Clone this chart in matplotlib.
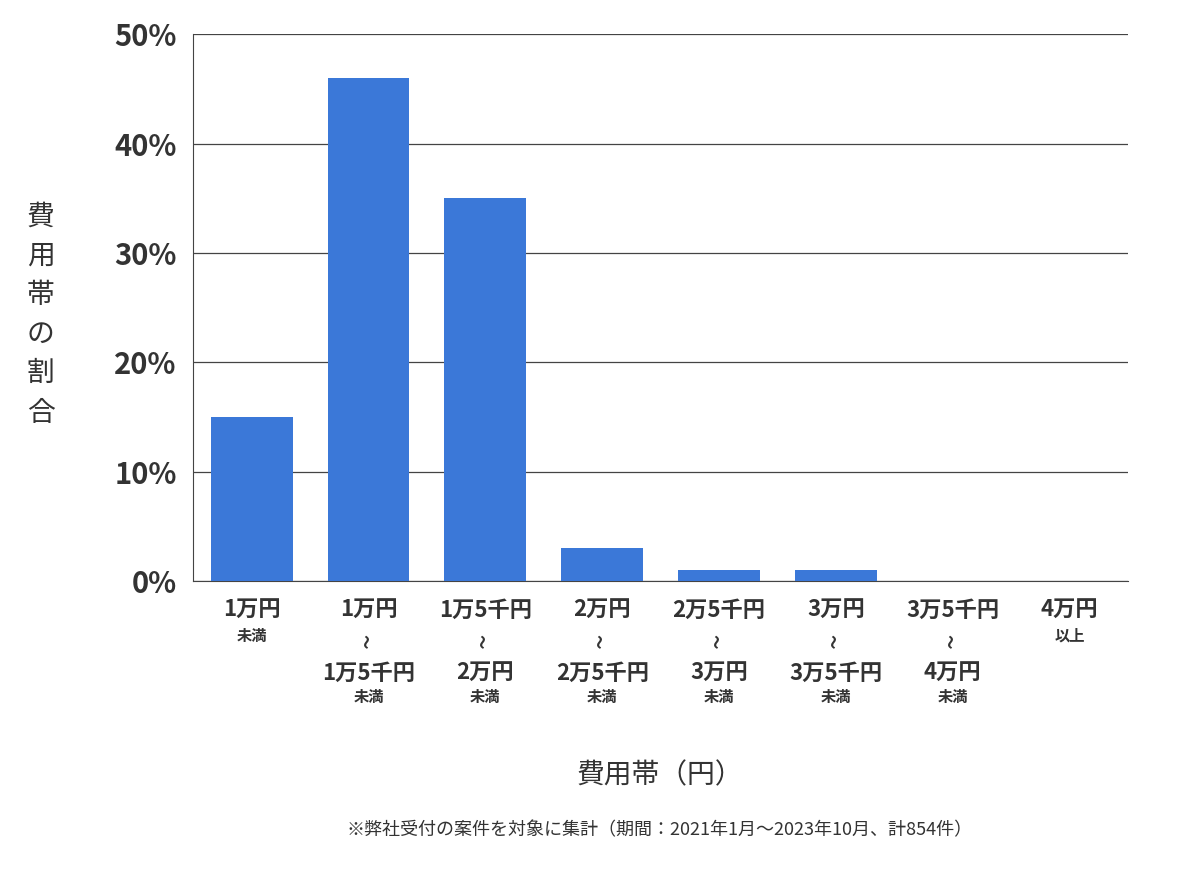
import matplotlib

matplotlib.use("Agg")
import matplotlib.pyplot as plt  # noqa: E402
from matplotlib.transforms import blended_transform_factory  # noqa: E402

plt.rcParams["font.family"] = ["Noto Sans CJK JP", "DejaVu Sans"]

# data
tops = ["1万円", "1万円", "1万5千円", "2万円", "2万5千円", "3万円", "3万5千円", "4万円"]
bottoms = [None, "1万5千円", "2万円", "2万5千円", "3万円", "3万5千円", "4万円", None]
suffixes = ["未満", "未満", "未満", "未満", "未満", "未満", "未満", "以上"]
shares = [15, 46, 35, 3, 1, 1, 0, 0]
yticks = [0, 10, 20, 30, 40, 50]

fig = plt.figure(figsize=(12, 8.74), dpi=100)
ax = fig.add_axes([0.161, 0.335, 0.779, 0.626])
x = range(len(shares))
ax.bar(x, shares, width=0.7, color="#3b78d8", zorder=3)
ax.set_xlim(-0.5, len(shares) - 0.5)
ax.set_ylim(0, 50)
ax.set_yticks(yticks)
ax.set_yticklabels([f"{v}%" for v in yticks], fontsize=21, fontweight="bold", color="#333333")
ax.tick_params(axis="y", length=0, pad=12)
ax.set_xticks([])
ax.grid(axis="y", color="#444444", lw=0.9, zorder=0)
for s in ("top", "right"):
    ax.spines[s].set_visible(False)
for s in ("left", "bottom"):
    ax.spines[s].set_color("#444444")

tr = blended_transform_factory(ax.transData, ax.transAxes)
kw = dict(transform=tr, ha="center", va="center", fontweight="bold", color="#333333")
for i, (t, b, suf) in enumerate(zip(tops, bottoms, suffixes)):
    ax.text(i, -0.053, t, fontsize=16, **kw)
    if b is None:
        ax.text(i, -0.1, suf, fontsize=11, **kw)
    else:
        ax.text(i, -0.108, "~", fontsize=20, rotation=90, fontweight="normal",
                transform=tr, ha="center", va="center", color="#333333")
        ax.text(i, -0.168, b, fontsize=16, **kw)
        ax.text(i, -0.212, suf, fontsize=11, **kw)

fig.text(0.034, 0.64, "\n".join("費用帯の割合"), ha="center", va="center",
         fontsize=20, color="#333333", linespacing=1.4)
fig.text(0.55, 0.113, "費用帯（円）", ha="center", va="center", fontsize=20, color="#333333")
fig.text(0.55, 0.05, "※弊社受付の案件を対象に集計（期間：2021年1月～2023年10月、計854件）",
         ha="center", va="center", fontsize=13, color="#333333")

fig.savefig("out.png", dpi=100)
